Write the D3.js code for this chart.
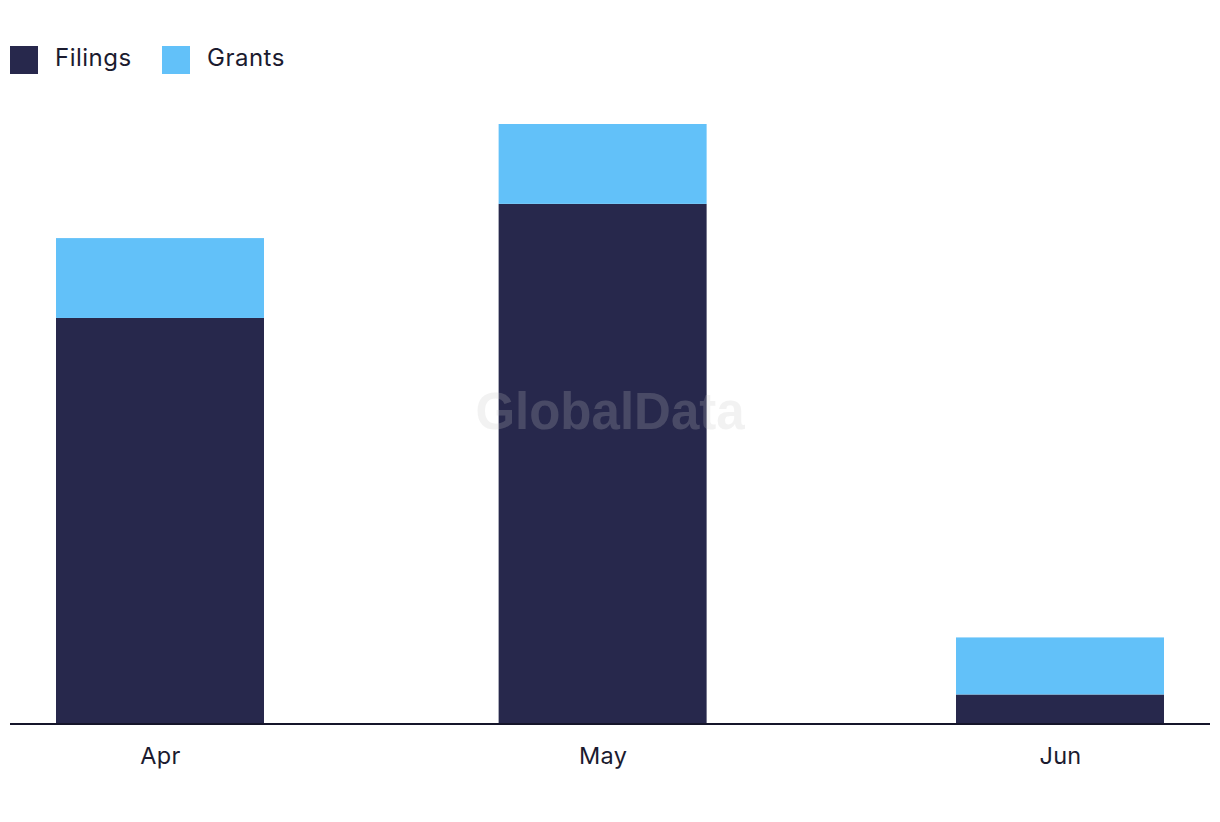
<!DOCTYPE html>
<html>
<head>
<meta charset="utf-8">
<script src="https://cdn.jsdelivr.net/npm/d3@7"></script>
<style>
  html, body { margin: 0; padding: 0; background: #ffffff; }
  svg { display: block; }
</style>
</head>
<body>
<svg id="chart" width="1220" height="822"></svg>
<script>
const months = ["2023-04-01", "2023-05-01", "2023-06-01"];
const filings = [71, 91, 5];
const grants = [14, 14, 10];
const seriesNames = ["Filings", "Grants"];
const seriesColors = ["#27284c", "#62c1f9"];

const parse = d3.timeParse("%Y-%m-%d");
const dates = months.map(parse);
const rows = dates.map((d, i) => ({ date: d, Filings: filings[i], Grants: grants[i] }));

const svg = d3.select("#chart");
const baseY = 723;
const barW = 208;
const font = "Inter, 'Noto Sans', sans-serif";

const x = d3.scaleTime().domain([dates[0], dates[dates.length - 1]]).range([160, 1060]);
const y = d3.scaleLinear().domain([0, 105]).range([baseY, 124]);

const stack = d3.stack().keys(seriesNames)(rows);
const color = d3.scaleOrdinal().domain(seriesNames).range(seriesColors);

svg.append("g").selectAll("g").data(stack).join("g")
  .attr("fill", d => color(d.key))
  .selectAll("rect").data(d => d).join("rect")
  .attr("x", d => x(d.data.date) - barW / 2)
  .attr("width", barW)
  .attr("y", d => y(d[1]))
  .attr("height", d => y(d[0]) - y(d[1]));

// watermark (semi-transparent, over bars)
svg.append("text")
  .attr("x", 610).attr("y", 429)
  .attr("text-anchor", "middle")
  .attr("font-family", "'Liberation Sans', Arial, sans-serif")
  .attr("font-weight", "bold")
  .attr("font-size", 51)
  .attr("fill", "#c5c5c5")
  .attr("fill-opacity", 0.22)
  .text("GlobalData");

// axis
const axis = d3.axisBottom(x)
  .tickValues(dates)
  .tickFormat(d3.timeFormat("%b"))
  .tickSize(0)
  .tickPadding(24);
const gx = svg.append("g").attr("transform", `translate(0,${baseY})`).call(axis);
gx.select(".domain").remove();
gx.selectAll("text")
  .attr("font-family", font)
  .attr("font-size", 23.5)
  .attr("letter-spacing", 0.3)
  .attr("fill", "#1b1b2f");

svg.append("line")
  .attr("x1", 10).attr("x2", 1210)
  .attr("y1", baseY + 1).attr("y2", baseY + 1)
  .attr("stroke", "#15152a").attr("stroke-width", 2);

// legend
const legendX = [10, 162];
const lg = svg.append("g").selectAll("g").data(seriesNames).join("g")
  .attr("transform", (d, i) => `translate(${legendX[i]},46)`);
lg.append("rect").attr("width", 28).attr("height", 28).attr("fill", d => color(d));
lg.append("text")
  .attr("x", 45).attr("y", 20)
  .attr("font-family", font)
  .attr("font-size", 24)
  .attr("letter-spacing", 0.5)
  .attr("fill", "#1b1b2f")
  .text(d => d);
</script>
</body>
</html>
